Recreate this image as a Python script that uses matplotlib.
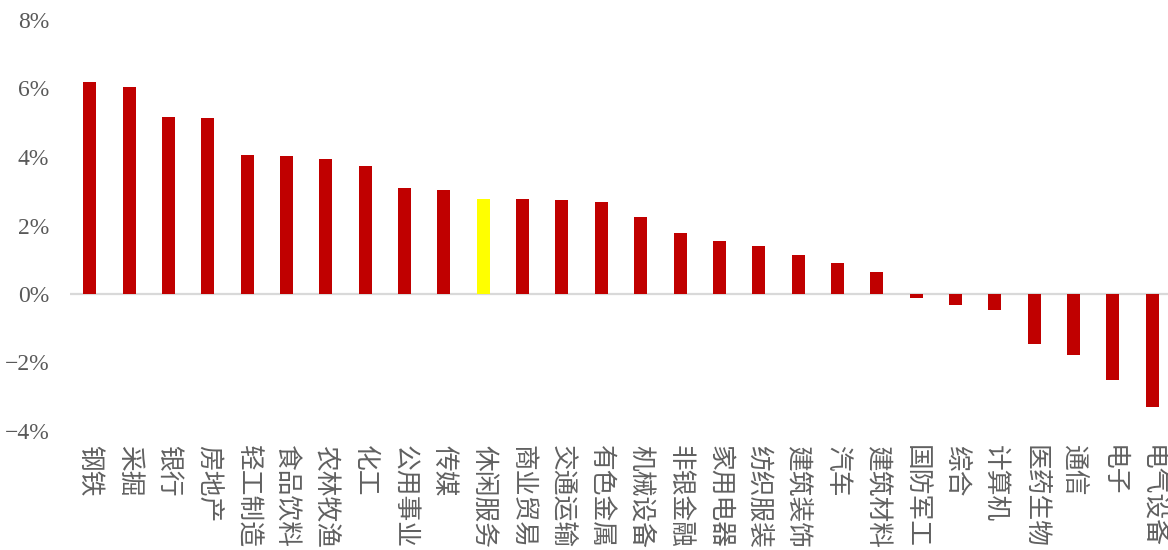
import matplotlib
matplotlib.use("Agg")
import matplotlib.pyplot as plt
from matplotlib.ticker import FuncFormatter

categories = ["钢铁", "采掘", "银行", "房地产", "轻工制造", "食品饮料", "农林牧渔", "化工",
              "公用事业", "传媒", "休闲服务", "商业贸易", "交通运输", "有色金属", "机械设备",
              "非银金融", "家用电器", "纺织服装", "建筑装饰", "汽车", "建筑材料", "国防军工",
              "综合", "计算机", "医药生物", "通信", "电子", "电气设备"]
values = [6.18, 6.03, 5.18, 5.15, 4.06, 4.03, 3.94, 3.74,
          3.09, 3.03, 2.76, 2.76, 2.74, 2.68, 2.26,
          1.79, 1.56, 1.41, 1.15, 0.91, 0.65, -0.12,
          -0.32, -0.47, -1.47, -1.79, -2.50, -3.30]
highlight = "休闲服务"
yticks = [-4, -2, 0, 2, 4, 6, 8]

W, H = 1168, 550
fig = plt.figure(figsize=(W / 100, H / 100), dpi=100)
ax = fig.add_axes([70 / W, 1 - 431 / H, (1172 - 70) / W, (431 - 20) / H])

colors = ["#FFFF00" if c == highlight else "#C00000" for c in categories]
x = list(range(len(categories)))
ax.bar(x, values, width=0.33, color=colors, zorder=2)
ax.axhline(0, color="#D9D9D9", linewidth=1.6, zorder=1)

ax.set_xlim(-0.5, len(categories) - 0.5)
ax.set_ylim(-4, 8)
ax.set_yticks(yticks)
ax.yaxis.set_major_formatter(FuncFormatter(lambda v, p: ("\u2212" if v < 0 else "") + f"{abs(int(v))}%"))
for lab in ax.get_yticklabels():
    lab.set_family(["Liberation Serif", "DejaVu Serif"])
    lab.set_fontsize(17)
    lab.set_color("#595959")
ax.tick_params(axis="y", length=0, pad=15)
ax.set_xticks([])
for s in ax.spines.values():
    s.set_visible(False)

for xi, c in zip(x, categories):
    ax.text(xi, -4.42, c, rotation=-90, ha="center", va="top",
            fontsize=18.5, color="#606060", family=["Noto Sans CJK SC", "DejaVu Sans"],
            clip_on=False)

fig.savefig("out.png", dpi=100)
